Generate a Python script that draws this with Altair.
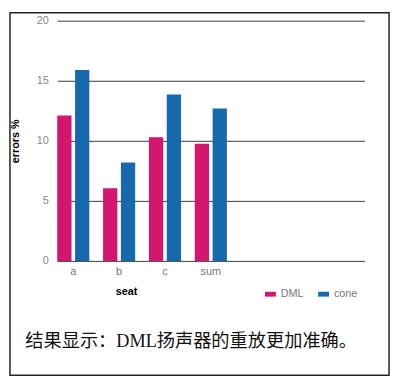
import altair as alt
import pandas as pd

seats = ["a", "b", "c", "sum"]
extra_slots = ["_1", "_2", "_3"]
dml = [12.1, 6.05, 10.3, 9.75]
cone = [15.9, 8.2, 13.85, 12.7]
series = ["DML", "cone"]
colors = ["#d4166f", "#1769ae"]
caption = "结果显示：DML扬声器的重放更加准确。"

rows = []
for s, d, c in zip(seats, dml, cone):
    rows.append({"seat": s, "type": "DML", "value": d})
    rows.append({"seat": s, "type": "cone", "value": c})
df = pd.DataFrame(rows)

W, H = 312, 244

bars = alt.Chart(df).mark_bar().encode(
    x=alt.X("seat:N", scale=alt.Scale(domain=seats + extra_slots, paddingInner=0.3, paddingOuter=0),
            axis=alt.Axis(title="seat", labelExpr="indexof(['a','b','c','sum'], datum.value) >= 0 ? datum.value : ''",
                          labelAngle=0, ticks=False, domain=True, domainColor="#555", labelColor="#777",
                          labelFont="Liberation Sans", labelFontSize=11, labelPadding=5,
                          titleFont="Liberation Sans", titleFontSize=11, titleFontWeight="bold",
                          titleColor="#000", titlePadding=9, titleX=70, titleAnchor="start",
                          titleAlign="center", grid=False)),
    xOffset=alt.XOffset("type:N", sort=series, scale=alt.Scale(paddingInner=0.2)),
    y=alt.Y("value:Q", scale=alt.Scale(domain=[0, 20]),
            axis=alt.Axis(title="errors %", values=[0, 5, 10, 15, 20], ticks=False, domain=False,
                          gridColor="#3a3a3a", gridWidth=1, labelColor="#888", labelFont="Liberation Sans",
                          labelFontSize=11, labelPadding=9, titleFont="Liberation Sans", titleFontSize=11,
                          titleFontWeight="bold", titleColor="#000", titlePadding=16)),
    color=alt.Color("type:N", sort=series, scale=alt.Scale(domain=series, range=colors),
                    legend=alt.Legend(title=None, orient="none", legendX=211, legendY=272, direction="horizontal",
                                      symbolType="M-1,-0.45L1,-0.45L1,0.45L-1,0.45Z", symbolSize=121,
                                      symbolStrokeWidth=0, labelColor="#777", labelFont="Liberation Sans",
                                      labelFontSize=11, columnPadding=14, labelOffset=5)),
)

cap = alt.Chart(pd.DataFrame({"t": [caption]})).mark_text(
    font="Liberation Serif, Noto Sans CJK SC", fontSize=18.5, color="#111", align="center", baseline="middle"
).encode(text="t:N", x=alt.value(136), y=alt.value(325))

border = alt.Chart(pd.DataFrame({"t": [0]})).mark_rect(
    fill=None, stroke="#222", strokeWidth=1.5, clip=False
).encode(x=alt.value(-48), x2=alt.value(337), y=alt.value(-8), y2=alt.value(360))

chart = alt.layer(bars, cap, border).properties(
    width=W, height=H,
    autosize=alt.AutoSizeParams(type="none"),
    padding={"left": 50, "top": 10, "right": 28, "bottom": 118},
    background="#ffffff",
).configure_view(strokeWidth=0)

chart.save("out.html", embed_options={"renderer": "svg", "actions": False})
